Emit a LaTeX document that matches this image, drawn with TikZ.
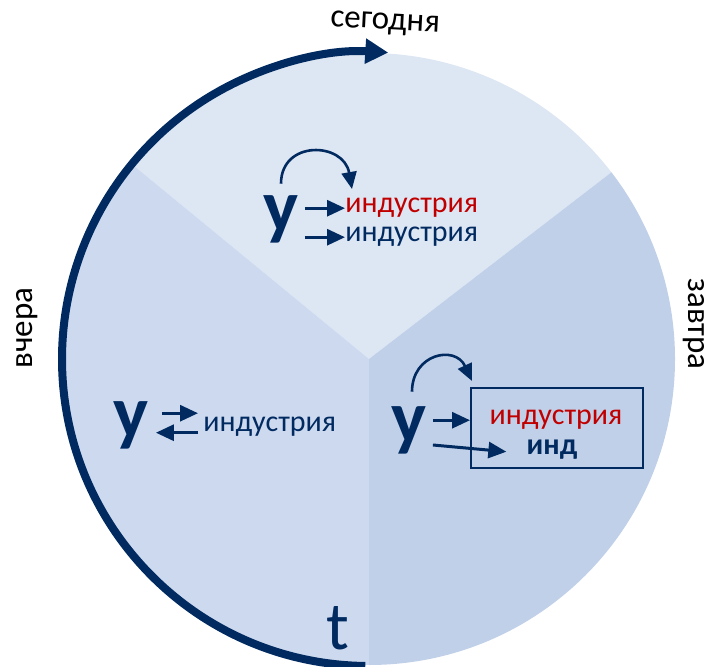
\documentclass[tikz,border=0pt]{standalone}
\usepackage{fontspec}
\setmainfont{Carlito}
\usetikzlibrary{arrows.meta,positioning,calc}
\definecolor{navy}{RGB}{0,42,96}
\definecolor{redtext}{RGB}{192,0,0}
\definecolor{secA}{RGB}{221,230,243}
\definecolor{secB}{RGB}{205,217,239}
\definecolor{secC}{RGB}{192,208,233}

\begin{document}
\begin{tikzpicture}[x=0.5pt,y=0.5pt,>=Latex,
 word/.style={inner sep=0pt,font=\fontsize{15}{18}\selectfont},
 side/.style={inner sep=0pt,font=\fontsize{16.5}{19}\selectfont},
 big/.style={inner sep=0pt,text=navy,font=\fontsize{37}{40}\selectfont\bfseries},
 arr/.style={-{Triangle[width=8pt,length=9pt]},line width=1.5pt,draw=navy},
 curvearr/.style={-{Triangle[width=7.5pt,length=8.5pt]},line width=1.3pt,draw=navy}]
\useasboundingbox (-369,-308) rectangle (341,359);
% sectors
\fill[secA] (0,0) -- (37.6:306) arc[start angle=37.6,end angle=140.6,radius=306] -- cycle;
\fill[secB] (0,0) -- (140.6:306) arc[start angle=140.6,end angle=270,radius=306] -- cycle;
\fill[secC] (0,0) -- (-90:306) arc[start angle=-90,end angle=37.6,radius=306] -- cycle;
% time arrow
\draw[navy,line width=4pt,-{Triangle[width=12pt,length=11.5pt]}] (269.3:307) arc[start angle=269.3,end angle=86.4,radius=307];
\node[side,rotate=-3] (today) at (16,335) {сегодня};
\node[side,rotate=-90,anchor=base] (tomor) at (319,35) {завтра};
\node[side,rotate=90,anchor=base] (yest) at (-336,31) {вчера};
\node[inner sep=0pt,text=navy,font=\fontsize{34}{36}\selectfont] (t) at (-31,-269) {t};
% today
\node[big,anchor=base] (y1) at (-88,127) {у};
\node[word,text=redtext,anchor=base west] (r1) at (-24,146) {индустрия};
\node[word,text=navy,anchor=base west] (b1) at (-24,117) {индустрия};
\draw[arr] ([xshift=3pt]y1.east |- r1.mid west) -- (r1.mid west);
\draw[arr] ([xshift=3pt]y1.east |- b1.mid west) -- (b1.mid west);
\draw[curvearr] ([yshift=6pt]y1.north) .. controls +(90:44) and +(100:48) .. ([xshift=3.5pt,yshift=4.5pt]r1.north west);
% yesterday
\node[big,anchor=base] (y3) at (-238,-79) {у};
\node[word,text=navy,anchor=base west] (b3) at (-166,-73) {индустрия};
\coordinate (u3) at ([yshift=7pt]b3.mid west);
\coordinate (l3) at ([yshift=-2.75pt]b3.mid west);
\draw[arr] ([xshift=6.5pt]y3.east |- u3) -- ([xshift=-2.5pt]u3);
\draw[arr] ([xshift=-2.5pt]l3) -- ([xshift=3.5pt]y3.east |- l3);
% tomorrow
\node[big,anchor=base] (y2) at (40,-84) {у};
\node[draw=navy,line width=1pt,minimum width=86pt,minimum height=40pt,inner sep=0pt] (box) at (188,-69) {};
\node[word,text=redtext,anchor=base] (r2) at (187,-66) {индустрия};
\node[word,text=navy,font=\fontsize{15}{18}\selectfont\bfseries,anchor=base] (i2) at (183,-96) {инд};
\draw[arr] ([xshift=3pt]y2.east |- r2.mid) -- (box.west |- r2.mid);
\draw[arr] ([xshift=3pt,yshift=-1pt]y2.base east) -- ([xshift=-10pt,yshift=-0.75pt]i2.mid west);
\draw[curvearr] ([xshift=1.5pt,yshift=7.5pt]y2.north) .. controls +(90:38) and +(115:40) .. ([xshift=1pt,yshift=3pt]box.north west);
\end{tikzpicture}
\end{document}
